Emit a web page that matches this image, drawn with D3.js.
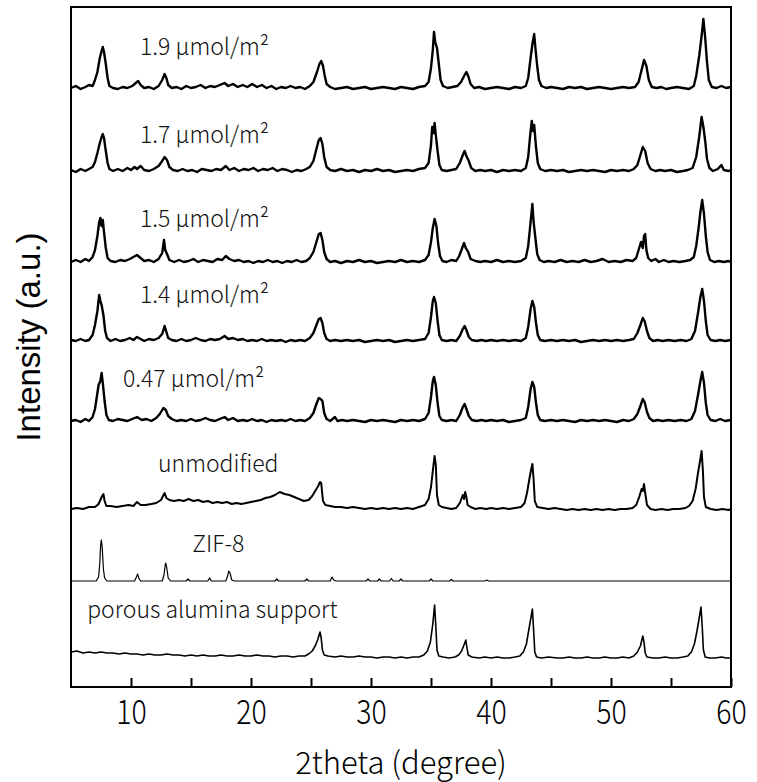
<!DOCTYPE html>
<html>
<head>
<meta charset="utf-8">
<script src="https://cdn.jsdelivr.net/npm/d3@7"></script>
<style>
  body { margin: 0; background: #fff; }
  svg { display: block; }
</style>
</head>
<body>
<div id="chart"></div>
<script>
// series names (top to bottom) and vertical offsets in intensity units
var seriesNames = ["1.9 µmol/m²", "1.7 µmol/m²", "1.5 µmol/m²", "1.4 µmol/m²",
                   "0.47 µmol/m²", "unmodified", "ZIF-8", "porous alumina support"];
var seriesOffsets = [599, 516, 425, 346, 266, 178, 106, 31];
var xTicks = [10, 15, 20, 25, 30, 35, 40, 45, 50, 55, 60];

// [2theta, intensity]
var s19 = [[5,0],[5.4,2],[5.8,-1],[6.2,1],[6.5,3],[6.8,2],[7.0,8],[7.2,16],[7.4,30],[7.55,37],[7.65,41],[7.75,36],[7.9,24],[8.05,10],[8.2,2],[8.5,0],[8.9,-1],[9.3,1],[9.7,0],[10.1,2],[10.4,5],[10.6,7],[10.8,3],[11.1,0],[11.5,1],[11.9,-1],[12.3,2],[12.6,8],[12.8,14],[12.95,10],[13.1,3],[13.4,0],[13.8,1],[14.2,-1],[14.6,2],[15.0,0],[15.4,1],[15.8,3],[16.2,0],[16.6,2],[17.0,1],[17.4,3],[17.8,5],[18.1,2],[18.5,4],[18.9,1],[19.3,3],[19.7,1],[20.1,4],[20.5,1],[20.9,3],[21.3,0],[21.7,2],[22.1,-1],[22.5,1],[22.9,0],[23.3,2],[23.7,0],[24.1,1],[24.5,-1],[24.9,2],[25.2,6],[25.5,16],[25.7,24],[25.85,27],[26.0,22],[26.15,12],[26.3,4],[26.6,1],[27.0,-1],[27.5,0],[28,1],[28.5,-1],[29,0],[29.5,1],[30,-1],[30.5,0],[31,1],[31.5,0],[32,-1],[32.5,1],[33,0],[33.5,-1],[34,1],[34.5,2],[34.8,6],[35.0,20],[35.15,38],[35.25,56],[35.35,46],[35.5,40],[35.65,24],[35.8,8],[36.0,2],[36.4,0],[36.8,1],[37.2,2],[37.5,6],[37.8,13],[37.95,16],[38.1,12],[38.3,4],[38.6,0],[39,1],[39.5,-1],[40,0],[40.5,1],[41,0],[41.5,-1],[42,1],[42.5,0],[42.9,2],[43.1,10],[43.3,30],[43.45,44],[43.6,54],[43.7,40],[43.85,22],[44.0,8],[44.2,2],[44.6,0],[45,1],[45.5,0],[46,-1],[46.5,1],[47,0],[47.5,1],[48,-1],[48.5,0],[49,1],[49.5,0],[50,-1],[50.5,0],[51,1],[51.5,0],[52,1],[52.3,6],[52.55,18],[52.75,28],[52.95,22],[53.15,8],[53.4,1],[53.8,0],[54.2,1],[54.6,-1],[55,0],[55.5,1],[56,0],[56.5,-1],[56.9,2],[57.1,12],[57.35,32],[57.55,52],[57.7,69],[57.85,50],[58.0,26],[58.15,8],[58.4,1],[58.8,0],[59.2,2],[59.6,0],[60,1]];

var s17 = [[5,1],[5.4,-1],[5.8,2],[6.2,0],[6.5,2],[6.8,4],[7.0,9],[7.2,18],[7.4,28],[7.55,34],[7.65,37],[7.75,33],[7.9,20],[8.05,8],[8.2,2],[8.5,0],[8.9,2],[9.3,0],[9.7,3],[10.0,1],[10.3,4],[10.5,2],[10.8,5],[11.1,1],[11.5,0],[11.9,2],[12.3,5],[12.6,10],[12.8,14],[13.0,11],[13.2,4],[13.5,1],[13.9,0],[14.3,2],[14.7,0],[15.1,1],[15.5,-1],[15.9,2],[16.3,1],[16.7,0],[17.1,2],[17.5,1],[17.9,5],[18.2,1],[18.6,3],[19.0,0],[19.4,2],[19.8,1],[20.2,3],[20.6,0],[21.0,2],[21.4,1],[21.8,3],[22.2,0],[22.6,2],[23.0,1],[23.4,-1],[23.8,1],[24.2,0],[24.6,2],[24.9,4],[25.2,10],[25.45,22],[25.65,31],[25.8,33],[25.95,27],[26.1,14],[26.3,4],[26.6,1],[27.0,0],[27.5,2],[28,0],[28.5,1],[29,-1],[29.5,1],[30,0],[30.5,2],[31,0],[31.5,1],[32,-1],[32.5,0],[33,1],[33.5,0],[34,2],[34.5,3],[34.8,8],[35.0,26],[35.1,44],[35.2,38],[35.3,48],[35.4,36],[35.55,20],[35.7,6],[35.9,1],[36.3,0],[36.7,1],[37.1,2],[37.4,8],[37.65,16],[37.8,20],[37.95,15],[38.15,10],[38.35,3],[38.7,0],[39.1,1],[39.5,0],[40,1],[40.5,-1],[41,1],[41.5,0],[42,1],[42.5,0],[42.9,3],[43.1,14],[43.25,34],[43.4,50],[43.5,40],[43.6,46],[43.75,24],[43.9,8],[44.1,2],[44.5,0],[45,1],[45.5,0],[46,1],[46.5,-1],[47,0],[47.5,1],[48,0],[48.5,1],[49,0],[49.5,-1],[50,1],[50.5,0],[51,1],[51.5,0],[51.9,2],[52.2,6],[52.45,16],[52.65,24],[52.85,20],[53.05,8],[53.3,2],[53.7,0],[54.1,1],[54.5,0],[55,1],[55.5,-1],[56,0],[56.4,1],[56.8,3],[57.1,14],[57.35,34],[57.55,54],[57.7,44],[57.85,30],[58.0,12],[58.2,3],[58.5,0],[58.9,2],[59.2,6],[59.4,1],[59.8,0],[60,1]];

var s15 = [[5,0],[5.4,2],[5.8,0],[6.2,3],[6.5,1],[6.8,5],[7.0,12],[7.2,26],[7.35,40],[7.45,44],[7.55,36],[7.65,42],[7.75,30],[7.9,14],[8.05,4],[8.3,1],[8.7,0],[9.1,2],[9.5,1],[9.9,3],[10.2,5],[10.5,7],[10.8,4],[11.1,1],[11.5,2],[11.9,0],[12.3,3],[12.6,9],[12.75,22],[12.85,12],[13.0,8],[13.2,2],[13.6,0],[14.0,2],[14.4,0],[14.8,1],[15.2,3],[15.6,0],[16.0,2],[16.4,1],[16.8,0],[17.2,3],[17.6,2],[17.9,6],[18.2,3],[18.6,1],[19.0,2],[19.4,0],[19.8,1],[20.2,-1],[20.6,1],[21.0,0],[21.4,2],[21.8,0],[22.2,1],[22.6,-1],[23.0,1],[23.4,0],[23.8,2],[24.2,0],[24.6,1],[24.9,4],[25.2,10],[25.45,20],[25.65,28],[25.8,29],[25.95,22],[26.1,10],[26.3,3],[26.6,0],[27.0,1],[27.5,-1],[28,1],[28.5,0],[29,2],[29.5,0],[30,1],[30.5,-1],[31,0],[31.5,1],[32,0],[32.5,2],[33,0],[33.5,1],[34,0],[34.5,2],[34.8,7],[35.0,20],[35.15,34],[35.3,43],[35.45,36],[35.6,18],[35.75,6],[35.95,1],[36.3,0],[36.7,2],[37.1,1],[37.35,6],[37.6,14],[37.75,19],[37.9,14],[38.1,10],[38.3,3],[38.7,1],[39.1,0],[39.5,1],[40,0],[40.5,2],[41,0],[41.5,1],[42,0],[42.5,1],[42.9,4],[43.1,16],[43.25,34],[43.35,46],[43.45,58],[43.55,40],[43.7,24],[43.85,8],[44.05,2],[44.4,0],[44.8,1],[45.3,0],[45.8,2],[46.3,0],[46.8,1],[47.3,0],[47.8,2],[48.3,0],[48.8,1],[49.3,3],[49.8,0],[50.3,1],[50.8,0],[51.3,2],[51.8,1],[52.1,4],[52.3,12],[52.5,20],[52.65,14],[52.75,26],[52.85,28],[52.95,12],[53.1,4],[53.35,1],[53.7,3],[54.0,0],[54.4,2],[54.8,0],[55.2,1],[55.7,0],[56.2,1],[56.6,2],[56.9,5],[57.1,16],[57.3,34],[57.45,50],[57.6,62],[57.75,48],[57.9,26],[58.05,10],[58.25,2],[58.6,0],[59.0,1],[59.4,0],[59.8,1],[60,0]];

var s14 = [[5,1],[5.4,0],[5.8,2],[6.2,0],[6.5,1],[6.8,6],[7.0,16],[7.2,30],[7.35,46],[7.45,40],[7.55,36],[7.7,26],[7.85,10],[8.0,3],[8.3,0],[8.7,2],[9.1,0],[9.5,1],[9.9,3],[10.2,1],[10.5,4],[10.8,2],[11.1,0],[11.5,2],[11.9,1],[12.3,3],[12.6,7],[12.8,15],[12.95,9],[13.1,3],[13.4,1],[13.8,0],[14.2,2],[14.6,0],[15.0,1],[15.4,3],[15.8,1],[16.2,0],[16.6,2],[17.0,1],[17.4,2],[17.8,5],[18.1,2],[18.5,3],[18.9,1],[19.3,2],[19.7,0],[20.1,1],[20.5,0],[20.9,2],[21.3,0],[21.7,1],[22.1,0],[22.5,1],[22.9,-1],[23.3,1],[23.7,0],[24.1,1],[24.5,0],[24.9,3],[25.2,8],[25.45,16],[25.65,22],[25.8,23],[25.95,18],[26.1,8],[26.3,2],[26.6,0],[27.0,1],[27.5,0],[28,1],[28.5,0],[29,1],[29.5,-1],[30,0],[30.5,1],[31,0],[31.5,1],[32,-1],[32.5,0],[33,1],[33.5,0],[34,1],[34.5,2],[34.8,8],[35.0,24],[35.15,40],[35.25,44],[35.4,38],[35.55,20],[35.7,6],[35.9,1],[36.3,0],[36.7,1],[37.1,0],[37.4,5],[37.65,12],[37.8,15],[37.95,11],[38.15,4],[38.4,1],[38.8,0],[39.2,1],[39.6,0],[40,1],[40.5,0],[41,1],[41.5,0],[42,1],[42.5,0],[42.9,3],[43.1,14],[43.3,32],[43.45,40],[43.6,34],[43.75,18],[43.9,6],[44.1,1],[44.5,0],[45,1],[45.5,0],[46,1],[46.5,0],[47,1],[47.5,-1],[48,0],[48.5,1],[49,0],[49.5,1],[50,0],[50.5,1],[51,0],[51.5,1],[51.9,2],[52.2,8],[52.45,16],[52.65,23],[52.8,20],[53.0,10],[53.2,3],[53.5,0],[53.9,1],[54.3,0],[54.8,1],[55.3,0],[55.8,1],[56.3,0],[56.7,2],[57.0,10],[57.25,28],[57.45,44],[57.6,52],[57.75,40],[57.9,20],[58.05,6],[58.3,1],[58.7,0],[59.1,1],[59.5,0],[60,1]];

var s047 = [[5,0],[5.4,1],[5.8,-1],[6.2,2],[6.5,0],[6.8,4],[7.0,12],[7.15,24],[7.3,36],[7.45,40],[7.55,48],[7.65,38],[7.8,20],[7.95,6],[8.15,1],[8.5,0],[8.9,2],[9.3,1],[9.7,0],[10.1,2],[10.5,4],[10.9,1],[11.3,2],[11.7,0],[12.1,3],[12.4,7],[12.7,13],[12.9,11],[13.1,5],[13.4,2],[13.8,0],[14.2,1],[14.6,0],[15.0,2],[15.4,0],[15.8,1],[16.2,3],[16.6,1],[17.0,0],[17.4,2],[17.8,4],[18.1,1],[18.5,3],[18.9,0],[19.3,1],[19.7,0],[20.1,2],[20.5,0],[20.9,1],[21.3,-1],[21.7,1],[22.1,0],[22.5,1],[22.9,0],[23.3,2],[23.7,0],[24.1,1],[24.5,0],[24.9,3],[25.2,8],[25.45,17],[25.65,23],[25.8,22],[25.95,20],[26.1,8],[26.3,2],[26.6,0],[27.0,4],[27.2,0],[27.6,1],[28,0],[28.5,1],[29,0],[29.5,-1],[30,1],[30.5,0],[31,1],[31.5,0],[32,-1],[32.5,1],[33,0],[33.5,1],[34,0],[34.5,2],[34.8,8],[35.0,24],[35.15,40],[35.25,44],[35.4,36],[35.55,18],[35.7,5],[35.9,1],[36.3,0],[36.7,1],[37.1,0],[37.4,6],[37.65,14],[37.8,17],[37.95,12],[38.15,5],[38.4,1],[38.8,0],[39.2,1],[39.6,0],[40,1],[40.5,0],[41,1],[41.5,-1],[42,0],[42.5,1],[42.9,3],[43.1,14],[43.3,32],[43.45,39],[43.6,34],[43.75,18],[43.9,6],[44.1,1],[44.5,0],[45,1],[45.5,0],[46,1],[46.5,0],[47,-1],[47.5,1],[48,0],[48.5,1],[49,0],[49.5,1],[50,0],[50.5,-1],[51,1],[51.5,0],[51.9,2],[52.2,7],[52.45,15],[52.65,22],[52.8,19],[53.0,9],[53.2,3],[53.5,0],[53.9,1],[54.3,0],[54.8,1],[55.3,0],[55.8,1],[56.3,0],[56.7,2],[57.0,10],[57.25,26],[57.45,40],[57.6,49],[57.75,38],[57.9,18],[58.05,6],[58.3,1],[58.7,0],[59.1,2],[59.5,0],[60,1]];

var sUnmod = [[5,0],[5.5,1],[6.0,0],[6.5,2],[7.0,2],[7.3,5],[7.55,12],[7.7,15],[7.8,8],[7.95,3],[8.3,3],[8.8,2],[9.3,3],[9.8,4],[10.2,3],[10.5,7],[10.8,4],[11.2,4],[11.7,5],[12.1,6],[12.5,9],[12.8,16],[12.95,11],[13.2,9],[13.6,8],[14.0,9],[14.4,8],[14.8,10],[15.2,8],[15.6,9],[16.0,7],[16.4,8],[16.8,6],[17.2,7],[17.6,6],[18.0,7],[18.4,5],[18.8,6],[19.2,5],[19.6,6],[20.0,7],[20.4,8],[20.8,9],[21.2,11],[21.6,12],[22.0,14],[22.4,17],[22.8,15],[23.2,14],[23.6,12],[24.0,10],[24.4,8],[24.8,9],[25.1,13],[25.35,18],[25.6,23],[25.75,27],[25.85,26],[26.0,8],[26.2,4],[26.6,3],[27.0,2],[27.5,2],[28,1],[28.5,2],[29,1],[29.5,0],[30,1],[30.5,0],[31,1],[31.5,0],[32,1],[32.5,0],[33,1],[33.5,0],[34,2],[34.5,4],[34.8,10],[35.0,22],[35.15,38],[35.3,53],[35.4,44],[35.5,14],[35.65,4],[35.9,2],[36.3,1],[36.7,0],[37.1,1],[37.4,6],[37.65,14],[37.75,10],[37.85,17],[37.95,12],[38.05,4],[38.3,2],[38.7,0],[39.1,1],[39.6,0],[40,1],[40.5,0],[41,1],[41.5,0],[42,1],[42.5,2],[42.8,6],[43.0,16],[43.2,30],[43.35,40],[43.45,45],[43.55,30],[43.65,8],[43.85,2],[44.3,1],[44.8,0],[45.3,1],[45.8,0],[46.3,-1],[46.8,0],[47.3,-1],[47.8,0],[48.3,-1],[48.8,0],[49.3,-1],[49.8,0],[50.3,-1],[50.8,0],[51.3,0],[51.8,1],[52.1,4],[52.35,12],[52.55,20],[52.65,18],[52.75,25],[52.85,16],[53.0,4],[53.3,0],[53.7,-1],[54.2,0],[54.7,-1],[55.2,0],[55.7,0],[56.2,1],[56.5,3],[56.8,8],[57.05,20],[57.25,36],[57.45,50],[57.55,58],[57.65,40],[57.75,12],[57.9,2],[58.3,0],[58.8,-1],[59.3,0],[59.8,-1],[60,0]];

var sZif = [[5,0],[7.1,0],[7.3,4],[7.4,18],[7.47,36],[7.53,41],[7.6,34],[7.7,12],[7.8,3],[8.0,0],[10.3,0],[10.45,4],[10.55,7],[10.65,3],[10.8,0],[12.6,0],[12.75,6],[12.85,16],[12.9,18],[12.97,14],[13.1,3],[13.3,0],[14.6,0],[14.75,2],[14.9,0],[16.4,0],[16.55,3],[16.7,0],[17.9,0],[18.05,5],[18.15,10],[18.25,8],[18.4,1],[18.6,0],[22.0,0],[22.15,2],[22.3,0],[24.5,0],[24.65,2],[24.8,0],[26.6,0],[26.75,4],[26.9,1],[27.1,0],[29.6,0],[29.75,2],[29.9,0],[30.55,0],[30.7,2],[30.85,0],[31.55,0],[31.7,2.5],[31.85,0],[32.35,0],[32.5,2],[32.65,0],[34.85,0],[35.0,2],[35.15,0],[36.55,0],[36.7,1.5],[36.85,0],[39.5,0],[39.65,1],[39.8,0],[60,0]];

var sAlumina = [[5,4],[5.5,5],[6,3],[6.5,4],[7,3],[7.5,4],[8,3],[8.5,3],[9,2],[9.5,3],[10,2],[10.5,2],[11,1],[11.5,2],[12,1],[12.5,1],[13,2],[13.5,1],[14,1],[14.5,0],[15,1],[15.5,0],[16,1],[16.5,0],[17,0],[17.5,1],[18,0],[18.5,0],[19,1],[19.5,0],[20,0],[20.5,1],[21,0],[21.5,0],[22,-1],[22.5,0],[23,0],[23.5,-1],[24,0],[24.5,0],[24.8,2],[25.1,5],[25.35,10],[25.55,16],[25.75,24],[25.85,18],[25.95,6],[26.1,1],[26.4,0],[27,-1],[27.5,0],[28,-1],[28.5,-1],[29,0],[29.5,-1],[30,-1],[30.5,-2],[31,-1],[31.5,-1],[32,-2],[32.5,-1],[33,-2],[33.5,-1],[34,-1],[34.4,1],[34.7,5],[34.95,14],[35.15,32],[35.3,51],[35.4,30],[35.5,6],[35.65,0],[36,-1],[36.5,-2],[37,-1],[37.3,1],[37.55,5],[37.75,11],[37.9,16],[38.0,8],[38.1,1],[38.4,-1],[39,-2],[39.5,-1],[40,-2],[40.5,-1],[41,-2],[41.5,-2],[42,-1],[42.4,0],[42.7,4],[42.95,12],[43.15,26],[43.35,40],[43.45,47],[43.55,26],[43.65,4],[43.8,-1],[44.2,-2],[44.8,-1],[45.5,-2],[46,-2],[46.5,-1],[47,-2],[47.5,-2],[48,-1],[48.5,-2],[49,-2],[49.5,-1],[50,-2],[50.5,-2],[51,-1],[51.5,-2],[51.9,0],[52.2,4],[52.45,10],[52.65,20],[52.75,14],[52.85,3],[53.0,-1],[53.5,-2],[54,-2],[54.5,-1],[55,-2],[55.5,-2],[56,-1],[56.4,0],[56.7,4],[56.95,12],[57.15,24],[57.35,38],[57.5,49],[57.6,30],[57.7,6],[57.85,-1],[58.2,-2],[58.7,-2],[59.2,-1],[59.6,-2],[60,-2]];

var seriesData = [s19, s17, s15, s14, s047, sUnmod, sZif, sAlumina];

// label anchor per series: [2theta, intensity above its own baseline]
var labelAnchors = [[10.75, 33], [10.75, 28], [10.75, 35], [10.75, 38],
                    [9.33, 34], [12.25, 37], [15.1, 29], [6.35, 38]];
var strokeWidths = [2.4, 2.4, 2.4, 2.4, 2.4, 2.0, 1.2, 1.6];

var width = 757, height = 782;
var margin = {top: 7, right: 26, bottom: 95, left: 71};

var svg = d3.select("#chart").append("svg")
    .attr("width", width)
    .attr("height", height);

svg.append("rect").attr("width", width).attr("height", height).attr("fill", "#fff");

var x = d3.scaleLinear()
    .domain([5, 60])
    .range([margin.left, width - margin.right]);

var y = d3.scaleLinear()
    .domain([0, 680])
    .range([height - margin.bottom, margin.top]);

var line = d3.line()
    .x(d => x(d[0]))
    .y(d => y(d[1]));

// traces
seriesData.forEach(function (data, i) {
  var off = seriesOffsets[i];
  svg.append("path")
    .datum(data.map(d => [d[0], d[1] + off]))
    .attr("fill", "none")
    .attr("stroke", "#000")
    .attr("stroke-width", strokeWidths[i])
    .attr("stroke-linejoin", "round")
    .attr("d", line);
});

// series labels
svg.append("g")
  .selectAll("text")
  .data(seriesNames)
  .join("text")
    .attr("x", (d, i) => x(labelAnchors[i][0]))
    .attr("y", (d, i) => y(labelAnchors[i][1] + seriesOffsets[i]))
    .attr("font-family", "'Noto Sans CJK JP', 'Noto Sans', sans-serif")
    .attr("font-size", 23)
    .attr("font-weight", 300)
    .attr("fill", "#111")
    .text(d => d);

// x axis, ticks point inward
var xAxis = d3.axisBottom(x)
    .tickValues(xTicks)
    .tickSizeInner(-9)
    .tickSizeOuter(0)
    .tickPadding(13)
    .tickFormat(d => d % 10 === 0 ? d : "");

var gx = svg.append("g")
    .attr("transform", "translate(0," + (height - margin.bottom) + ")")
    .call(xAxis);
gx.select(".domain").remove();
gx.selectAll("line").attr("stroke", "#000").attr("stroke-width", 2);
gx.selectAll("text")
    .attr("font-family", "'Noto Sans CJK JP', sans-serif")
    .attr("font-size", 34)
    .attr("font-weight", 300)
    .attr("transform", "scale(0.84,1)")
    .attr("fill", "#000");

// frame
svg.append("rect")
    .attr("x", x(5))
    .attr("y", y(680))
    .attr("width", x(60) - x(5))
    .attr("height", y(0) - y(680))
    .attr("fill", "none")
    .attr("stroke", "#000")
    .attr("stroke-width", 2);

svg.append("text")
    .attr("x", (x(5) + x(60)) / 2)
    .attr("y", 774)
    .attr("text-anchor", "middle")
    .attr("font-family", "'Noto Sans CJK JP', sans-serif")
    .attr("font-size", 31)
    .attr("font-weight", 300)
    .text("2theta (degree)");

svg.append("text")
    .attr("transform", "translate(40,337) rotate(-90)")
    .attr("text-anchor", "middle")
    .attr("font-family", "'Liberation Sans', Arial, sans-serif")
    .attr("font-size", 33)
    .text("Intensity (a.u.)");
</script>
</body>
</html>
